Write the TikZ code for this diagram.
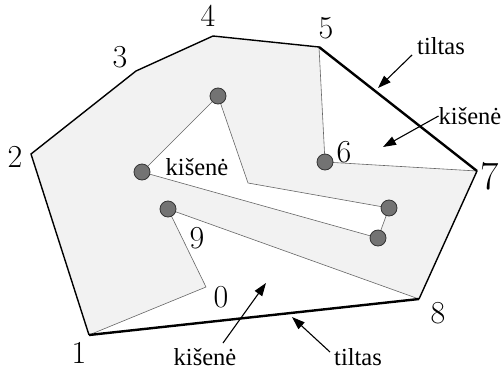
\documentclass[tikz,border=0pt]{standalone}
\usepackage{fontspec}
\newfontfamily\wordfont{Liberation Serif}
\usetikzlibrary{arrows.meta}
\begin{document}
\begin{tikzpicture}[x=1pt,y=-1pt,
  hull/.style={line width=1.4pt,black},
  bridge/.style={line width=2.4pt,black},
  thin/.style={line width=0.6pt,gray!80!black},
  dot/.style={circle,draw=black!80,line width=0.8pt,fill=black!55,minimum size=16pt,inner sep=0pt},
  num/.style={font=\fontsize{32}{32}\selectfont,inner sep=0pt},
  bignum/.style={font=\fontsize{40}{40}\selectfont,inner sep=0pt},
  word/.style={font=\wordfont\fontsize{24.5}{25}\selectfont,inner sep=0pt},
  pointer/.style={line width=1.1pt,-{Triangle[length=13pt,width=9pt]}}]
\useasboundingbox (0,0) rectangle (502,372);
% vertices
\coordinate (v1) at (89,335);
\coordinate (v2) at (31,154);
\coordinate (v3) at (136,71);
\coordinate (v4) at (213,36);
\coordinate (v5) at (319,47);
\coordinate (v6) at (325,162);
\coordinate (v7) at (477,171);
\coordinate (v8) at (419,299);
\coordinate (v9) at (168,209);
\coordinate (v0) at (206,287);
\coordinate (ca) at (142,172);
\coordinate (cb) at (218,96);
\coordinate (hk) at (248,183);
\coordinate (cc) at (389,208);
\coordinate (cd) at (378,238);
% shaded region with hole
\fill[black!5,even odd rule] (v1) -- (v2) -- (v3) -- (v4) -- (v5) -- (v6) -- (v7) -- (v8) -- (v9) -- (v0) -- cycle
  (ca) -- (cb) -- (hk) -- (cc) -- (cd) -- cycle;
% thin edges
\draw[thin] (v5) -- (v6) -- (v7);
\draw[thin] (v8) -- (v9) -- (v0) -- (v1);
\draw[thin] (ca) -- (cb) -- (hk) -- (cc) -- (cd) -- cycle;
% hull
\draw[hull,line join=miter] (v1) -- (v2) -- (v3) -- (v4) -- (v5);
\draw[hull] (v7) -- (v8);
\draw[bridge] (v5) -- (v7);
\draw[bridge] (v8) -- (v1);
% dots
\node[dot] (d6) at (v6) {};
\node[dot] (d9) at (v9) {};
\node[dot] (da) at (ca) {};
\node[dot] (db) at (cb) {};
\node[dot] (dc) at (cc) {};
\node[dot] (dd) at (cd) {};
% numbers
\node[num] (n1) at (79,353) {1};
\node[num] (n2) at (15,157) {2};
\node[num] (n3) at (120,57) {3};
\node[num] (n4) at (208,16) {4};
\node[num] (n5) at (326,28) {5};
\node[num] (n6) at (344,152) {6};
\node[bignum] (n7) at (490,176) {7};
\node[num] (n8) at (438,313) {8};
\node[num] (n9) at (197,238) {9};
\node[num] (n0) at (221,297) {0};
% words
\node[word] (k1) at (197,167) {kišenė};
\node[word] (k2) at (470,116) {kišenė};
\node[word] (k3) at (205,357) {kišenė};
\node[word] (t1) at (441,46) {tiltas};
\node[word] (t2) at (358,357) {tiltas};
% arrows
\coordinate (a1) at (378,88);
\coordinate (a2) at (383,147);
\coordinate (a3) at (266,283);
\coordinate (a4) at (292,317);
\draw[pointer] (412,55) -- (a1);
\draw[pointer] (k2.west) -- (a2);
\draw[pointer] (223,343) -- (a3);
\draw[pointer] (330,352) -- (a4);
\end{tikzpicture}
\end{document}
